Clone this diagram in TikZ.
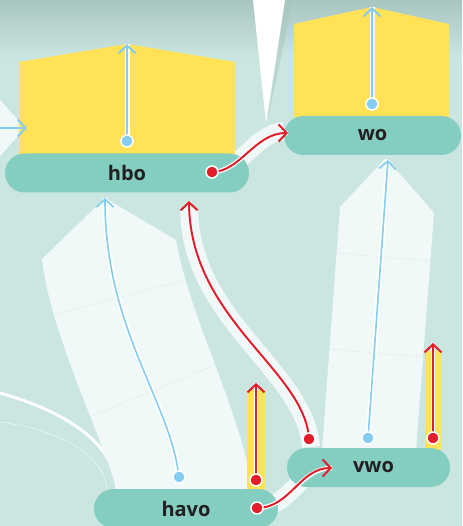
\documentclass[tikz,border=0pt]{standalone}
\usepackage{fontspec}
\setmainfont{Open Sans}
\usetikzlibrary{arrows.meta}
\definecolor{bgc}{HTML}{CBE6E1}
\definecolor{shadowc}{HTML}{A9C5C0}
\definecolor{ribc}{HTML}{F0F9F8}
\definecolor{faintc}{HTML}{E2EFED}
\definecolor{yel}{HTML}{FFE256}
\definecolor{tealc}{HTML}{84CDC1}
\definecolor{lblue}{HTML}{84CDF0}
\definecolor{redc}{HTML}{E31E2A}
\definecolor{txtc}{HTML}{231F20}
\begin{document}
\begin{tikzpicture}[x=1pt,y=-1pt,
 level/.style={fill=tealc, rounded corners=19.5pt, minimum height=39pt, inner sep=0pt, text=txtc, font=\fontsize{20}{24}\selectfont\bfseries},
 bluearrow/.style={draw=lblue, line width=2pt, -{Straight Barb[length=8pt,width=17pt]}, preaction={draw=white, line width=5pt, -}},
 redarrow/.style={draw=redc, line width=2pt, -{Straight Barb[length=8pt,width=17pt]}, preaction={draw=white, line width=4.5pt, -}},
 ribbon/.style={draw=ribc, line width=18pt},
 bluedot/.style={fill=lblue, draw=white, line width=1.5pt},
 reddot/.style={fill=redc, draw=white, line width=1.5pt},
 faint/.style={draw=faintc, line width=0.6pt},
 yelbox/.style={fill=yel}
]
\useasboundingbox (0,0) rectangle (462,526);
\clip (0,0) rectangle (462,526);
% background
\fill[bgc] (0,0) rectangle (462,526);
\shade[top color=shadowc, bottom color=bgc] (0,0) rectangle (462,58);
\fill[shadowc, opacity=0.5] (285,0) -- (293,0) -- (268,118) -- cycle;
\fill[white] (253,0) -- (285,0) -- (266,123) -- cycle;
% left triangle
\fill[ribc] (0,100) -- (25,128) -- (0,156) -- cycle;
% bottom-left curves
\draw[white, line width=3pt, dash pattern=on 3.5pt off 0.5pt] (0,393) .. controls (60,410) and (115,440) .. (117,490);
\draw[white, opacity=0.6, line width=0.6pt] (0,422) .. controls (60,430) and (105,455) .. (107,490);
% big ribbons
\fill[ribc] (42,259) -- (105,198) -- (176,240)
  .. controls (190,320) and (245,420) .. (252,492) -- (118,492)
  .. controls (95,420) and (50,330) .. cycle;
\draw[faint] (53,315) -- (185,280);
\draw[faint] (90,417) -- (215,365);
\fill[ribc] (340,207) -- (386,158) -- (434,213) -- (416,450) -- (322,450) -- cycle;
\draw[faint] (337,253) -- (430,261);
\draw[faint] (329,349) -- (422,357);
% coordinates
\coordinate (hboDot) at (127,141);
\coordinate (hboTip) at (127,44);
\coordinate (woDot) at (372,104);
\coordinate (woTip) at (372,7);
\coordinate (leftStart) at (0,128);
\coordinate (leftTip) at (27,128);
\coordinate (havoBlueDot) at (179,477);
\coordinate (havoBlueTip) at (105,198);
\coordinate (vwoBlueDot) at (368,438);
\coordinate (vwoBlueTip) at (388,160);
\coordinate (vwoRedDot) at (309,439);
\coordinate (vwoRedTip) at (189,201);
\coordinate (hboRedDot) at (212,172);
\coordinate (hboRedTip) at (288,133);
\coordinate (havoRedDot) at (257,508);
\coordinate (havoRedTip) at (332,468);
\coordinate (barADot) at (256,480);
\coordinate (barATip) at (256,383);
\coordinate (barBDot) at (433,438);
\coordinate (barBTip) at (433,343);
% red ribbons
\draw[ribbon] (311,447) .. controls (305,370) and (190,320) .. (189,208);
\draw[ribbon] (hboRedDot) .. controls (240,172) and (255,133) .. (284,131);
\draw[ribbon] (havoRedDot) .. controls (290,508) and (300,468) .. (328,466);
% yellow boxes
\fill[yelbox] (19,160) -- (19,62) -- (127,44) -- (235,62) -- (235,160) -- cycle;
\fill[yelbox] (294,120) -- (294,24) -- (372,7) -- (449,24) -- (449,120) -- cycle;
\fill[yelbox] (247,390) rectangle (265,492);
\fill[yelbox] (425,351) rectangle (441,450);
% level nodes
\node[level, minimum width=244pt] (hbo) at (127,173) {hbo};
\node[level, minimum width=177pt] (wo) at (372.5,135.5) {wo};
\node[level, minimum width=163pt] (vwo) at (368.5,467.5) {\hspace{10pt}vwo};
\node[level, minimum width=184pt] (havo) at (186,508.5) {havo};
% blue arrows
\draw[bluearrow] (hboDot) -- (hboTip);
\draw[bluearrow] (woDot) -- (woTip);
\draw[draw=lblue, line width=2pt, -{Straight Barb[length=8pt,width=17pt]}] (leftStart) -- (leftTip);
\draw[bluearrow, line width=1.6pt] (havoBlueDot) .. controls (170,400) and (105,330) .. (havoBlueTip);
\draw[bluearrow, line width=1.6pt] (vwoBlueDot) -- (vwoBlueTip);
\foreach \d in {hboDot, woDot, havoBlueDot, vwoBlueDot}
  \filldraw[bluedot] (\d) circle (6pt);
% red arrows
\draw[redarrow] (vwoRedDot) .. controls (305,370) and (190,320) .. (vwoRedTip);
\draw[redarrow] (hboRedDot) .. controls (240,172) and (255,133) .. (hboRedTip);
\draw[redarrow] (havoRedDot) .. controls (290,508) and (300,468) .. (havoRedTip);
\draw[redarrow] (barADot) -- (barATip);
\draw[redarrow] (barBDot) -- (barBTip);
\foreach \d in {vwoRedDot, hboRedDot, havoRedDot, barADot, barBDot}
  \filldraw[reddot] (\d) circle (6pt);
\end{tikzpicture}
\end{document}
